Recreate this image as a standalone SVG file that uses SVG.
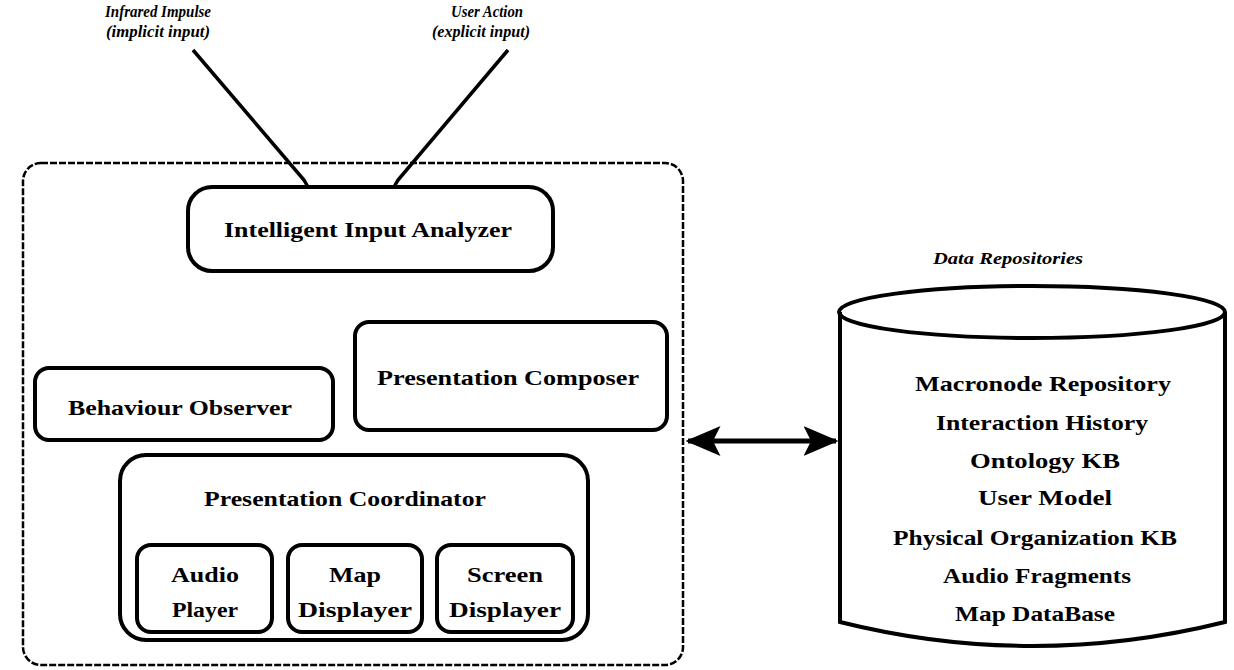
<svg xmlns="http://www.w3.org/2000/svg" width="1234" height="670" viewBox="0 0 1234 670">
<style>
.box{fill:none;stroke:#000;stroke-width:4}
.t{font-family:"Liberation Serif",serif;font-weight:bold;font-size:22px;fill:#000;text-anchor:middle}
.it{font-family:"Liberation Serif",serif;font-weight:bold;font-style:italic;font-size:17px;fill:#000;text-anchor:middle}
.ln{stroke:#000;stroke-width:3.5;fill:none}
</style>
<defs>
<marker id="ah" markerWidth="7" markerHeight="6" refX="6.5" refY="3" orient="auto-start-reverse" markerUnits="strokeWidth">
<path d="M0,0 L7,3 L0,6 L1.5,3 Z" fill="#000"/>
</marker>
</defs>
<rect width="1234" height="670" fill="#fff"/>
<g id="label-infrared">
<text class="it" x="158" y="17" textLength="106" lengthAdjust="spacingAndGlyphs">Infrared Impulse</text>
<text class="it" x="158" y="37" textLength="104" lengthAdjust="spacingAndGlyphs">(implicit input)</text>
</g>
<g id="label-user">
<text class="it" x="487" y="17" textLength="72" lengthAdjust="spacingAndGlyphs">User Action</text>
<text class="it" x="481" y="37" textLength="98" lengthAdjust="spacingAndGlyphs">(explicit input)</text>
</g>
<g id="system">
<rect x="23" y="163" width="660" height="502" rx="18" fill="none" stroke="#000" stroke-width="2.5" stroke-dasharray="7 2"/>
</g>
<g id="analyzer">
<rect class="box" x="188" y="187" width="365" height="84" rx="24"/>
<text class="t" x="368" y="237" textLength="288" lengthAdjust="spacingAndGlyphs">Intelligent Input Analyzer</text>
</g>
<g id="observer">
<rect class="box" x="35" y="368" width="298" height="72" rx="14"/>
<text class="t" x="180" y="415" textLength="224" lengthAdjust="spacingAndGlyphs">Behaviour Observer</text>
</g>
<g id="composer">
<rect class="box" x="355" y="322" width="312" height="108" rx="14"/>
<text class="t" x="508" y="385" textLength="262" lengthAdjust="spacingAndGlyphs">Presentation Composer</text>
</g>
<g id="coordinator">
<rect class="box" x="120" y="455" width="468" height="185" rx="26"/>
<text class="t" x="345" y="506" textLength="282" lengthAdjust="spacingAndGlyphs">Presentation Coordinator</text>
</g>
<g id="audio">
<rect class="box" x="137" y="545" width="135" height="87" rx="14"/>
<text class="t" x="205" y="582" textLength="68" lengthAdjust="spacingAndGlyphs">Audio</text>
<text class="t" x="205" y="617" textLength="66" lengthAdjust="spacingAndGlyphs">Player</text>
</g>
<g id="map">
<rect class="box" x="288" y="545" width="134" height="87" rx="14"/>
<text class="t" x="355" y="582" textLength="52" lengthAdjust="spacingAndGlyphs">Map</text>
<text class="t" x="355" y="617" textLength="114" lengthAdjust="spacingAndGlyphs">Displayer</text>
</g>
<g id="screen">
<rect class="box" x="437" y="545" width="136" height="87" rx="14"/>
<text class="t" x="505" y="582" textLength="76" lengthAdjust="spacingAndGlyphs">Screen</text>
<text class="t" x="505" y="617" textLength="112" lengthAdjust="spacingAndGlyphs">Displayer</text>
</g>
<g id="repositories">
<text class="it" x="1008" y="264" textLength="150" lengthAdjust="spacingAndGlyphs">Data Repositories</text>
<path d="M840,312 L840,622 Q1032,670 1225,622 L1225,312" fill="none" stroke="#000" stroke-width="4"/>
<ellipse cx="1032" cy="312" rx="193" ry="26" fill="none" stroke="#000" stroke-width="4"/>
<text class="t" x="1043" y="391" textLength="256" lengthAdjust="spacingAndGlyphs">Macronode Repository</text>
<text class="t" x="1042" y="430" textLength="212" lengthAdjust="spacingAndGlyphs">Interaction History</text>
<text class="t" x="1045" y="468" textLength="150" lengthAdjust="spacingAndGlyphs">Ontology KB</text>
<text class="t" x="1045" y="505" textLength="134" lengthAdjust="spacingAndGlyphs">User Model</text>
<text class="t" x="1035" y="545" textLength="284" lengthAdjust="spacingAndGlyphs">Physical Organization KB</text>
<text class="t" x="1037" y="583" textLength="188" lengthAdjust="spacingAndGlyphs">Audio Fragments</text>
<text class="t" x="1035" y="621" textLength="160" lengthAdjust="spacingAndGlyphs">Map DataBase</text>
</g>
<g id="connectors">
<path class="ln" d="M193,50 L304,180 L308,187"/>
<path class="ln" d="M508,50 L398,180 L394,187"/>
<line x1="688" y1="441" x2="836" y2="441" stroke="#000" stroke-width="5" marker-start="url(#ah)" marker-end="url(#ah)"/>
</g>
</svg>
